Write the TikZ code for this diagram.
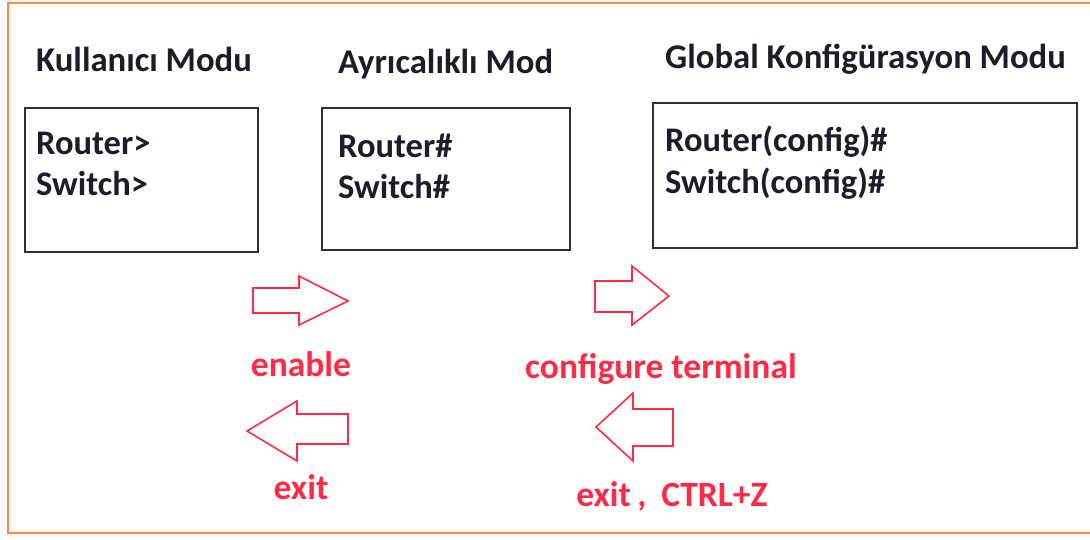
\documentclass[tikz,border=0pt]{standalone}
\usepackage{fontspec}
\setmainfont{Carlito}
\definecolor{frameorange}{HTML}{FF8A45}
\definecolor{boxgray}{HTML}{303030}
\definecolor{inkdark}{HTML}{1C1C2A}
\definecolor{cmdred}{HTML}{FF2A45}
\tikzset{
  modebox/.style={draw=boxgray, line width=2.2pt},
  heading/.style={anchor=base west, inner sep=0pt, text=inkdark, font=\fontsize{34.7}{40}\selectfont\bfseries},
  prompt/.style={anchor=base west, inner sep=0pt, text=inkdark, font=\fontsize{34.5}{40}\selectfont\bfseries},
  cmd/.style={anchor=base, inner sep=0pt, text=cmdred, font=\fontsize{35.5}{40}\selectfont\bfseries},
  blockarrow/.style={draw=cmdred, line width=1.6pt, line join=miter, fill=white},
}
\begin{document}
\begin{tikzpicture}[x=1pt, y=-1pt]
  \useasboundingbox (0,0) rectangle (1090,539);
  % outer frame (open on the right)
  \draw[frameorange, line width=2.2pt] (1092,3) -- (8,3) -- (8,533) -- (1092,533);

  % mode boxes
  \draw[modebox] (25,108) rectangle (258,252);
  \draw[modebox] (322,108) rectangle (570,250);
  \draw[modebox] (653,103) rectangle (1077,248);

  % headings
  \node[heading] (h1) at (36,71) {Kullanıcı Modu};
  \node[heading] (h2) at (338,73) {Ayrıcalıklı Mod};
  \node[heading] (h3) at (665,68) {Global Konfigürasyon Modu};

  % prompts
  \node[prompt] (p1a) at (36,154) {Router>};
  \node[prompt] (p1b) at (36,195) {Switch>};
  \node[prompt] (p2a) at (338,157) {Router\#};
  \node[prompt] (p2b) at (338,198) {Switch\#};
  \node[prompt] (p3a) at (665,151) {Router(config)\#};
  \node[prompt] (p3b) at (665,193) {Switch(config)\#};

  % block arrows
  \draw[blockarrow] (253,288) -- (299,288) -- (299,276) -- (348,301) -- (299,325) -- (299,313) -- (253,313) -- cycle;
  \draw[blockarrow] (595,281) -- (632,281) -- (632,266) -- (669,296) -- (632,325) -- (632,312) -- (595,312) -- cycle;
  \draw[blockarrow] (348,414) -- (297,414) -- (297,401) -- (247,431) -- (297,461) -- (297,444) -- (348,444) -- cycle;
  \draw[blockarrow] (673,409) -- (633,409) -- (633,393) -- (596,427) -- (633,461) -- (633,446) -- (673,446) -- cycle;

  % commands
  \node[cmd] (c1) at (301,376) {enable};
  \node[cmd] (c2) at (661,378) {configure terminal};
  \node[cmd] (c3) at (301,499) {exit};
  \node[cmd] (c4) at (672,506) {exit\hspace{0.18em},\hspace{0.42em}CTRL+Z};
\end{tikzpicture}
\end{document}
